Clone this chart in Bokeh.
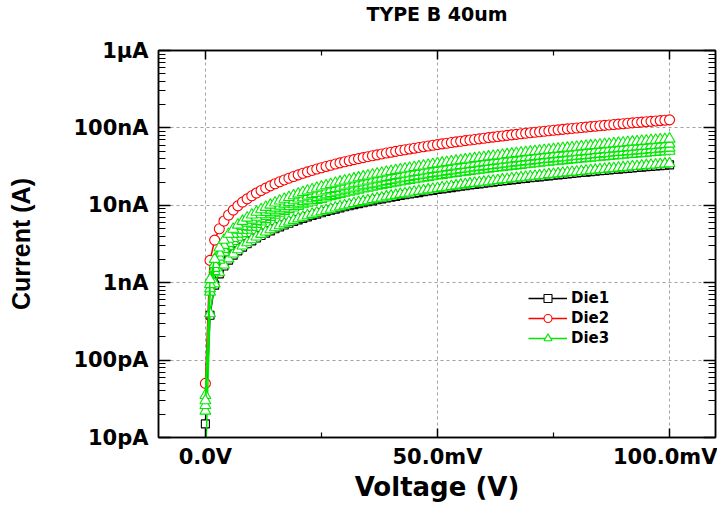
from bokeh.plotting import figure
from bokeh.models import (FixedTicker, LinearAxis, LogAxis, Legend, LegendItem, Range1d, Title)
from bokeh.embed import file_html
from bokeh.resources import INLINE

# ---------------- data (voltage in mV, current in nA) ----------------
voltage_mv = list(range(0, 101))

die1_black_na = [0.015,
    0.38, 0.93, 1.30, 1.64, 1.96, 2.27, 2.58, 2.88, 3.18, 3.47,
    3.78, 4.07, 4.37, 4.67, 4.97, 5.27, 5.57, 5.87, 6.18, 6.48,
    6.78, 7.09, 7.39, 7.70, 8.01, 8.32, 8.63, 8.93, 9.25, 9.56,
    9.87, 10.2, 10.5, 10.8, 11.1, 11.4, 11.8, 12.1, 12.4, 12.7,
    13.0, 13.4, 13.7, 14.0, 14.3, 14.6, 15.0, 15.3, 15.6, 16.0,
    16.3, 16.6, 16.9, 17.3, 17.6, 17.9, 18.3, 18.6, 18.9, 19.3,
    19.6, 19.9, 20.3, 20.6, 20.9, 21.3, 21.6, 22.0, 22.3, 22.7,
    23.0, 23.3, 23.7, 24.0, 24.4, 24.7, 25.1, 25.4, 25.8, 26.1,
    26.5, 26.8, 27.2, 27.5, 27.9, 28.2, 28.6, 29.0, 29.3, 29.7,
    30.0, 30.4, 30.8, 31.1, 31.5, 31.8, 32.2, 32.6, 32.9, 33.3]

die2_red_na = [0.05,
    1.94, 3.55, 4.97, 6.26, 7.49, 8.67, 9.84, 10.98, 12.12, 13.26,
    14.41, 15.54, 16.68, 17.82, 18.96, 20.11, 21.26, 22.41, 23.57, 24.73,
    25.89, 27.05, 28.22, 29.39, 30.56, 31.74, 32.92, 34.10, 35.29, 36.48,
    37.67, 38.86, 40.06, 41.26, 42.46, 43.67, 44.88, 46.09, 47.31, 48.53,
    49.75, 50.97, 52.20, 53.43, 54.66, 55.90, 57.14, 58.38, 59.63, 60.88,
    62.13, 63.38, 64.64, 65.90, 67.16, 68.43, 69.70, 70.97, 72.25, 73.53,
    74.81, 76.09, 77.38, 78.67, 79.96, 81.26, 82.56, 83.86, 85.17, 86.48,
    87.79, 89.10, 90.42, 91.74, 93.06, 94.39, 95.72, 97.05, 98.39, 99.73,
    101.07, 102.41, 103.76, 105.11, 106.46, 107.82, 109.18, 110.54, 111.91, 113.28,
    114.65, 116.02, 117.40, 118.78, 120.16, 121.55, 122.94, 124.33, 125.73, 127.13]

die3_a_na = [0.030,
    1.10, 2.01, 2.82, 3.55, 4.25, 4.92, 5.58, 6.23, 6.87, 7.52,
    8.17, 8.81, 9.46, 10.10, 10.75, 11.40, 12.05, 12.70, 13.36, 14.02,
    14.68, 15.34, 16.00, 16.66, 17.33, 18.00, 18.67, 19.33, 20.01, 20.68,
    21.36, 22.03, 22.71, 23.39, 24.07, 24.76, 25.45, 26.13, 26.82, 27.52,
    28.21, 28.90, 29.60, 30.30, 30.99, 31.70, 32.40, 33.10, 33.81, 34.52,
    35.23, 35.94, 36.65, 37.37, 38.08, 38.80, 39.52, 40.24, 40.97, 41.69,
    42.42, 43.14, 43.87, 44.61, 45.34, 46.07, 46.81, 47.55, 48.29, 49.03,
    49.78, 50.52, 51.27, 52.02, 52.77, 53.52, 54.27, 55.03, 55.79, 56.55,
    57.31, 58.07, 58.83, 59.60, 60.36, 61.13, 61.91, 62.68, 63.45, 64.23,
    65.01, 65.78, 66.57, 67.35, 68.13, 68.92, 69.71, 70.50, 71.29, 72.08]

die3_b_na = [0.026,
    0.95, 1.73, 2.43, 3.05, 3.66, 4.23, 4.80, 5.36, 5.91, 6.47,
    7.03, 7.58, 8.14, 8.70, 9.25, 9.81, 10.4, 10.9, 11.5, 12.1,
    12.6, 13.2, 13.8, 14.3, 14.9, 15.5, 16.1, 16.6, 17.2, 17.8,
    18.4, 19.0, 19.5, 20.1, 20.7, 21.3, 21.9, 22.5, 23.1, 23.7,
    24.3, 24.9, 25.5, 26.1, 26.7, 27.3, 27.9, 28.5, 29.1, 29.7,
    30.3, 30.9, 31.5, 32.2, 32.8, 33.4, 34.0, 34.6, 35.3, 35.9,
    36.5, 37.1, 37.8, 38.4, 39.0, 39.7, 40.3, 40.9, 41.6, 42.2,
    42.8, 43.5, 44.1, 44.8, 45.4, 46.1, 46.7, 47.4, 48.0, 48.7,
    49.3, 50.0, 50.6, 51.3, 52.0, 52.6, 53.3, 53.9, 54.6, 55.3,
    55.9, 56.6, 57.3, 58.0, 58.6, 59.3, 60.0, 60.7, 61.4, 62.0]

die3_c_na = [0.035,
    0.84, 1.54, 2.15, 2.71, 3.24, 3.75, 4.26, 4.75, 5.25, 5.74,
    6.24, 6.73, 7.22, 7.72, 8.21, 8.71, 9.21, 9.70, 10.2, 10.7,
    11.2, 11.7, 12.2, 12.7, 13.2, 13.7, 14.3, 14.8, 15.3, 15.8,
    16.3, 16.8, 17.3, 17.9, 18.4, 18.9, 19.4, 20.0, 20.5, 21.0,
    21.5, 22.1, 22.6, 23.1, 23.7, 24.2, 24.7, 25.3, 25.8, 26.4,
    26.9, 27.4, 28.0, 28.5, 29.1, 29.6, 30.2, 30.7, 31.3, 31.8,
    32.4, 32.9, 33.5, 34.1, 34.6, 35.2, 35.8, 36.3, 36.9, 37.4,
    38.0, 38.6, 39.2, 39.7, 40.3, 40.9, 41.4, 42.0, 42.6, 43.2,
    43.8, 44.3, 44.9, 45.5, 46.1, 46.7, 47.3, 47.9, 48.5, 49.1,
    49.6, 50.2, 50.8, 51.4, 52.0, 52.6, 53.2, 53.8, 54.4, 55.0]

die3_d_na = [0.022,
    0.76, 1.40, 1.96, 2.47, 2.95, 3.42, 3.88, 4.33, 4.78, 5.22,
    5.68, 6.12, 6.57, 7.02, 7.47, 7.92, 8.38, 8.83, 9.29, 9.74,
    10.2, 10.7, 11.1, 11.6, 12.0, 12.5, 13.0, 13.4, 13.9, 14.4,
    14.8, 15.3, 15.8, 16.3, 16.7, 17.2, 17.7, 18.2, 18.6, 19.1,
    19.6, 20.1, 20.6, 21.1, 21.5, 22.0, 22.5, 23.0, 23.5, 24.0,
    24.5, 25.0, 25.5, 26.0, 26.5, 27.0, 27.5, 28.0, 28.5, 29.0,
    29.5, 30.0, 30.5, 31.0, 31.5, 32.0, 32.5, 33.0, 33.6, 34.1,
    34.6, 35.1, 35.6, 36.1, 36.7, 37.2, 37.7, 38.2, 38.8, 39.3,
    39.8, 40.3, 40.9, 41.4, 41.9, 42.5, 43.0, 43.6, 44.1, 44.6,
    45.2, 45.7, 46.3, 46.8, 47.3, 47.9, 48.4, 49.0, 49.5, 50.1]

die3_e_na = [0.004,
    0.40, 0.97, 1.35, 1.70, 2.04, 2.36, 2.68, 2.99, 3.30, 3.61,
    3.92, 4.23, 4.54, 4.85, 5.16, 5.47, 5.78, 6.10, 6.41, 6.73,
    7.04, 7.36, 7.68, 7.99, 8.31, 8.63, 8.95, 9.28, 9.60, 9.92,
    10.2, 10.6, 10.9, 11.2, 11.5, 11.9, 12.2, 12.5, 12.9, 13.2,
    13.5, 13.9, 14.2, 14.5, 14.9, 15.2, 15.5, 15.9, 16.2, 16.6,
    16.9, 17.2, 17.6, 17.9, 18.3, 18.6, 19.0, 19.3, 19.7, 20.0,
    20.3, 20.7, 21.0, 21.4, 21.7, 22.1, 22.5, 22.8, 23.2, 23.5,
    23.9, 24.2, 24.6, 25.0, 25.3, 25.7, 26.0, 26.4, 26.8, 27.1,
    27.5, 27.9, 28.2, 28.6, 29.0, 29.3, 29.7, 30.1, 30.4, 30.8,
    31.2, 31.6, 31.9, 32.3, 32.7, 33.1, 33.4, 33.8, 34.2, 34.6]

x_ticks = [0, 50, 100]
x_minor_ticks = [25, 75]
x_tick_labels = ["0.0V", "50.0mV", "100.0mV"]
y_ticks = [0.01, 0.1, 1, 10, 100, 1000]
y_tick_labels = ["10pA", "100pA", "1nA", "10nA", "100nA", "1µA"]
y_minor_ticks = [m * d for d in [0.01, 0.1, 1, 10, 100] for m in range(2, 10)]
title_text = "TYPE B 40um"

BLACK = "#000000"
RED = "#ff0000"
GREEN = "#00e800"
BOLD_FONT = "DejaVu Sans"

p = figure(width=717, height=504, title=None,
           x_range=Range1d(-10.1, 109.9), y_range=Range1d(0.01, 1000),
           y_axis_type="log", output_backend="svg", toolbar_location=None,
           min_border_left=158, min_border_right=2, min_border_top=49,
           min_border_bottom=66, background_fill_color="white",
           border_fill_color="white")

p.outline_line_color = "black"
p.outline_line_width = 1.5

# axes
xax = p.xaxis[0]
xax.ticker = FixedTicker(ticks=x_ticks, minor_ticks=x_minor_ticks)
xax.major_label_overrides = dict(zip(x_ticks, x_tick_labels))
yax = p.yaxis[0]
yax.ticker = FixedTicker(ticks=y_ticks, minor_ticks=y_minor_ticks)
yax.major_label_overrides = dict(zip(y_ticks, y_tick_labels))

for ax in (xax, yax):
    ax.major_label_text_font = BOLD_FONT
    ax.major_label_text_font_style = "bold"
    ax.major_label_text_font_size = "21px"
    ax.major_label_text_color = "black"
    ax.axis_label_text_color = "black"
    ax.axis_line_width = 1.5
    ax.major_tick_out = 0
    ax.minor_tick_out = 0
    ax.major_tick_line_width = 1.5
    ax.minor_tick_line_width = 1.2

xax.major_tick_in = 9
xax.minor_tick_in = 5
yax.major_tick_in = 12
yax.minor_tick_in = 7
xax.major_label_standoff = 7
yax.major_label_standoff = 10

xax.axis_label = "Voltage (V)"
xax.axis_label_text_font = BOLD_FONT
xax.axis_label_text_font_style = "bold"
xax.axis_label_text_font_size = "26px"
xax.axis_label_standoff = 0
yax.axis_label = "Current (A)"
yax.axis_label_text_font = "Liberation Sans"
yax.axis_label_text_font_style = "bold"
yax.axis_label_text_font_size = "25px"
yax.axis_label_standoff = 35

mirror_style = dict(major_label_text_font_size="1px", major_label_text_alpha=0,
                    major_label_standoff=0, major_tick_out=0, minor_tick_out=0,
                    axis_line_width=1.5, major_tick_line_width=1.5,
                    minor_tick_line_width=1.2)
top = LinearAxis(ticker=FixedTicker(ticks=x_ticks, minor_ticks=x_minor_ticks),
                 major_tick_in=9, minor_tick_in=5, **mirror_style)
p.add_layout(top, "above")
right = LogAxis(ticker=FixedTicker(ticks=y_ticks, minor_ticks=y_minor_ticks),
                major_tick_in=12, minor_tick_in=7, **mirror_style)
p.add_layout(right, "right")

# title: a trailing empty line keeps the text high above the frame
main_title = Title(text=title_text + "\n", align="center", vertical_align="top",
                   standoff=4, text_font=BOLD_FONT, text_font_style="bold",
                   text_font_size="19px", text_line_height=1.0, text_color="black")
p.add_layout(main_title, "above")

p.xgrid.grid_line_color = "#a0a0a0"
p.xgrid.grid_line_dash = "3 3"
p.xgrid.grid_line_width = 1
p.ygrid.grid_line_color = "#a0a0a0"
p.ygrid.grid_line_dash = "3 3"
p.ygrid.grid_line_width = 1


def series(values, color, marker, size):
    ln = p.line(voltage_mv, values, line_color=color, line_width=1.5)
    sc = p.scatter(voltage_mv, values, marker=marker, size=size,
                   line_color=color, line_width=1.1, fill_color="white")
    return ln, sc


l1, s1 = series(die1_black_na, BLACK, "square", 8)
l2, s2 = series(die2_red_na, RED, "circle", 10)
series(die3_e_na, GREEN, "triangle", 11)
series(die3_d_na, GREEN, "triangle", 11)
series(die3_c_na, GREEN, "triangle", 11)
series(die3_b_na, GREEN, "triangle", 11)
l3, s3 = series(die3_a_na, GREEN, "triangle", 11)

legend = Legend(items=[LegendItem(label="Die1", renderers=[l1, s1]),
                       LegendItem(label="Die2", renderers=[l2, s2]),
                       LegendItem(label="Die3", renderers=[l3, s3])],
                location=(370, 89), border_line_color=None,
                background_fill_alpha=0, padding=0, margin=0, spacing=0,
                glyph_width=39, glyph_height=20, label_height=20,
                label_standoff=4, label_text_font=BOLD_FONT,
                label_text_color="black",
                label_text_font_style="bold", label_text_font_size="15px")
p.add_layout(legend)

open("out.html", "w").write(file_html(p, INLINE))
